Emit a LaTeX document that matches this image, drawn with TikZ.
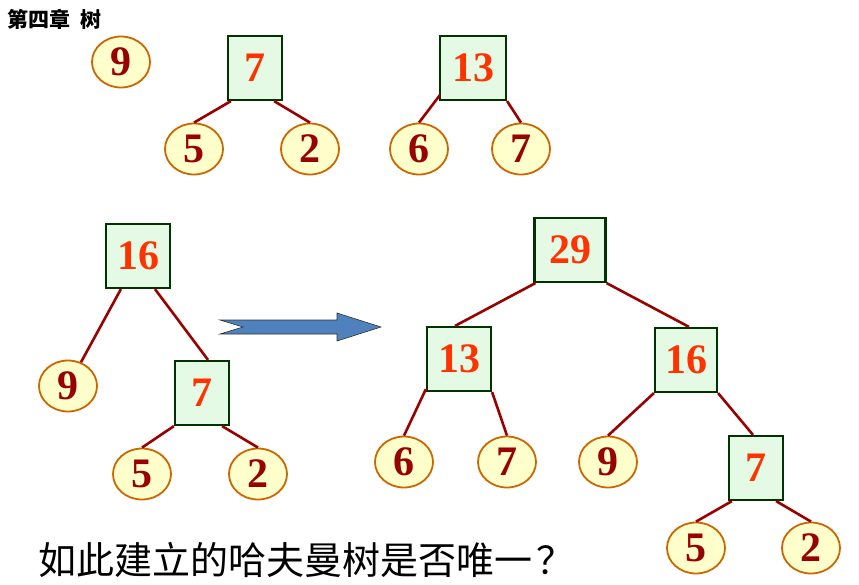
\documentclass[tikz,border=0pt]{standalone}
\usepackage{fontspec}
\setmainfont{Liberation Serif}
\newfontfamily\cjk{Noto Sans CJK SC}
\usetikzlibrary{shapes.geometric, calc}

\definecolor{leaffill}{RGB}{255,255,204}
\definecolor{leafdraw}{RGB}{204,102,0}
\definecolor{leaftext}{RGB}{153,0,0}
\definecolor{sumfill}{RGB}{228,250,228}
\definecolor{sumdraw}{RGB}{0,51,0}
\definecolor{sumtext}{RGB}{255,51,0}
\definecolor{edgecol}{RGB}{153,0,0}
\definecolor{arrfill}{RGB}{79,129,189}

\begin{document}
\begin{tikzpicture}[
  x=1pt, y=-1pt,
  leaf/.style={ellipse, draw=leafdraw, fill=leaffill, line width=1.8pt,
               minimum width=58pt, minimum height=51pt, inner sep=0pt,
               text=leaftext, font=\fontsize{42}{42}\selectfont\bfseries},
  sumbox/.style={rectangle, draw=sumdraw, fill=sumfill, line width=2.2pt,
                 minimum width=54pt, minimum height=64pt, inner sep=0pt,
                 text=sumtext, font=\fontsize{42}{42}\selectfont\bfseries},
  wide/.style={sumbox, minimum width=64pt},
  edge/.style={draw=edgecol, line width=2.6pt},
]
\useasboundingbox (0,0) rectangle (859,584);

% ------------------------------------------------------------------ title
\node[anchor=west, inner sep=0pt, font=\cjk\bfseries\fontsize{21}{21}\selectfont] (title) at (7,19) {第四章\hspace{10pt}树};

% -------------------------------------------------------- forest, first row
\node[leaf]   (a9)  at (121,62)  {9};
\node[sumbox] (a7)  at (255,68)  {7};
\node[leaf]   (a5)  at (194,149) {5};
\node[leaf]   (a2)  at (310,149) {2};
\node[wide, minimum width=66pt] (a13) at (473,68) {13};
\node[leaf]   (a6)  at (419,149) {6};
\node[leaf]   (a7b) at (521,149) {7};

\draw[edge] ($(a7.south west)+(4,0)$) -- (a5.north);
\draw[edge] ($(a7.south east)+(-9,0)$) -- (a2.north);
\draw[edge] ($(a13.south west)+(1,-6)$) -- (a6.north);
\draw[edge] (a13.south east) -- (a7b.north);

% ---------------------------------------------------------- tree with 16
\node[wide]   (b16) at (138,256) {16};
\node[leaf]   (b9)  at (68,386)  {9};
\node[sumbox] (b7)  at (202,393) {7};
\node[leaf]   (b5)  at (142,474) {5};
\node[leaf]   (b2)  at (258,474) {2};

\draw[edge] ($(b16.south west)+(16,0)$) -- (b9);
\draw[edge] ($(b16.south)+(17,0)$) -- ($(b7.north)+(6,0)$);
\draw[edge] (b7.south west) -- (b5.north);
\draw[edge] ($(b7.south east)+(-8,0)$) -- (b2.north);

% ------------------------------------------------------------------ arrow
\draw[fill=arrfill, draw=black!80, line width=0.6pt]
  (220,320) -- (337,320) -- (337,313) -- (381,327) -- (337,341)
  -- (337,334) -- (220,334) -- (243,327) -- cycle;

% -------------------------------------------------------------- final tree
\node[wide, minimum width=71pt] (c29) at (570,250) {29};
\node[wide]   (c13) at (459,359) {13};
\node[wide, minimum width=62pt] (c16) at (686,360) {16};
\node[leaf]   (c6)  at (404,462) {6};
\node[leaf]   (c7)  at (507,462) {7};
\node[leaf]   (c9)  at (608,462) {9};
\node[sumbox] (c7b) at (756,468) {7};
\node[leaf]   (c5)  at (696,548) {5};
\node[leaf]   (c2)  at (811,548) {2};

\draw[edge] ($(c29.south west)+(2,0)$) -- ($(c13.north)+(-4,0)$);
\draw[edge] (c29.south east) -- ($(c16.north)+(3,0)$);
\draw[edge] ($(c13.south west)+(0,-3)$) -- (c6.north);
\draw[edge] (c13.south east) -- (c7.north);
\draw[edge] (c16.south west) -- (c9.north);
\draw[edge] (c16.south east) -- ($(c7b.north)+(-3,0)$);
\draw[edge] ($(c7b.south west)+(4,0)$) -- (c5.north);
\draw[edge] ($(c7b.south east)+(-8,0)$) -- (c2.north);

% --------------------------------------------------------------- question
\node[anchor=west, inner sep=0pt, font=\cjk\fontsize{38}{38}\selectfont] (question) at (38,560) {如此建立的哈夫曼树是否唯一\hspace{4pt}？};
\end{tikzpicture}
\end{document}
